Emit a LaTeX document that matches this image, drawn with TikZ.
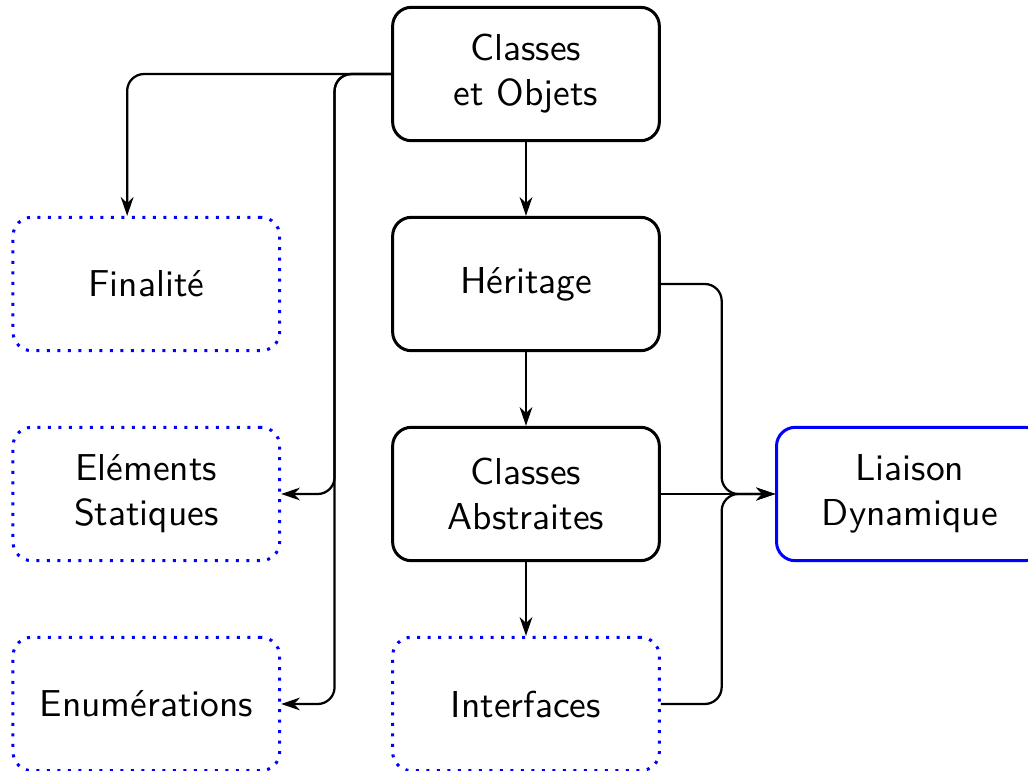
\documentclass[tikz,border=0pt]{standalone}
\usetikzlibrary{positioning,arrows.meta}

\begin{document}
\begin{tikzpicture}[font=\sffamily,
    box/.style={rectangle, draw, thick, rounded corners=5pt, minimum width=2.5cm, minimum height=1.25cm, align=center},
    optbox/.style={box, draw=blue, dotted},
    keybox/.style={box, draw=blue},
    conn/.style={semithick, -{Stealth[length=5pt, width=3.4pt, inset=1.6pt]}, rounded corners=4.5pt}]
    % frame of the picture
    \useasboundingbox (-4.93,0.694) rectangle (4.705,-6.524);

    % middle column
    \node[box] (cls) at (0,0) {Classes\\et Objets};
    \node[box, below=0.69cm of cls] (her) {H\'eritage};
    \node[box, below=0.69cm of her] (abs) {Classes\\Abstraites};
    \node[optbox, below=0.69cm of abs] (itf) {Interfaces};

    % left column
    \node[optbox, left=1.03cm of her] (fin) {Finalit\'e};
    \node[optbox, left=1.03cm of abs] (ele) {El\'ements\\Statiques};
    \node[optbox, left=1.03cm of itf] (enu) {Enum\'erations};

    % right
    \node[keybox, right=1.07cm of abs] (lia) {Liaison\\Dynamique};

    % arrows down the middle
    \draw[conn] (cls) -- (her);
    \draw[conn] (her) -- (abs);
    \draw[conn] (abs) -- (itf);

    % arrows to the left column
    \coordinate (finin) at ([xshift=-0.18cm]fin.north);
    \draw[conn] (cls.west) -| (finin);
    \draw[conn] (cls.west) -- ++(-0.53,0) |- (ele.east);
    \draw[conn] (cls.west) -- ++(-0.53,0) |- (enu.east);

    % arrows to the binding
    \draw[conn] (her.east) -- ++(0.57,0) |- (lia.west);
    \draw[conn] (abs.east) -- (lia.west);
    \draw[conn] (itf.east) -- ++(0.57,0) |- (lia.west);
\end{tikzpicture}
\end{document}
